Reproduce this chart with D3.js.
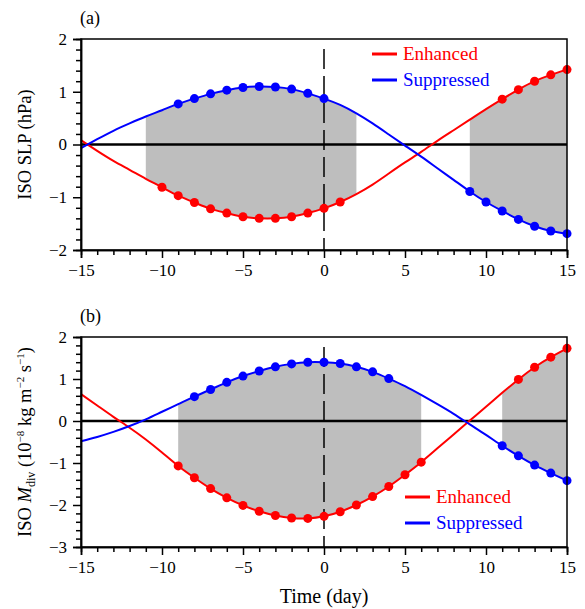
<!DOCTYPE html>
<html>
<head>
<meta charset="utf-8">
<script src="https://cdn.jsdelivr.net/npm/d3@7"></script>
<style>
  html, body { margin: 0; padding: 0; background: #fff; }
  svg { display: block; font-family: "Liberation Serif", "Times New Roman", serif; }
  svg text { font-family: "Liberation Serif", "Times New Roman", serif; }
</style>
</head>
<body>
<svg id="chart" width="585" height="609"></svg>
<script>
// ---- Data ----
const days = d3.range(-15, 16);
const xTicks = [-15, -10, -5, 0, 5, 10, 15];

// Panel (a): ISO SLP (hPa)
const slpEnhanced = [0.08, -0.12, -0.31, -0.48, -0.65, -0.81, -0.97, -1.10, -1.22, -1.30, -1.37, -1.40, -1.40, -1.37, -1.30, -1.21, -1.09, -0.94, -0.76, -0.55, -0.34, -0.14, 0.07, 0.27, 0.47, 0.67, 0.86, 1.04, 1.20, 1.32, 1.42];
const slpSuppressed = [-0.07, 0.10, 0.26, 0.40, 0.53, 0.65, 0.77, 0.87, 0.96, 1.03, 1.08, 1.10, 1.09, 1.05, 0.97, 0.87, 0.75, 0.59, 0.40, 0.19, -0.02, -0.23, -0.45, -0.67, -0.89, -1.09, -1.26, -1.42, -1.55, -1.64, -1.69];
const slpEnhMarkerDays = [-10, -9, -8, -7, -6, -5, -4, -3, -2, -1, 0, 1, 11, 12, 13, 14, 15];
const slpSupMarkerDays = [-9, -8, -7, -6, -5, -4, -3, -2, -1, 0, 9, 10, 11, 12, 13, 14, 15];
const slpShadeRanges = [[-11, 2], [9, 15]];
const slpYTicks = [-2, -1, 0, 1, 2];

// Panel (b): ISO M_div (10^-8 kg m^-2 s^-1)
const mdivEnhanced = [0.64, 0.37, 0.10, -0.16, -0.44, -0.75, -1.07, -1.35, -1.61, -1.83, -2.01, -2.15, -2.25, -2.31, -2.32, -2.27, -2.16, -2.00, -1.80, -1.56, -1.28, -0.98, -0.65, -0.32, 0.01, 0.34, 0.67, 0.99, 1.28, 1.52, 1.73];
const mdivSuppressed = [-0.48, -0.38, -0.26, -0.12, 0.04, 0.22, 0.40, 0.58, 0.75, 0.92, 1.07, 1.19, 1.29, 1.36, 1.40, 1.40, 1.37, 1.29, 1.17, 1.01, 0.83, 0.62, 0.40, 0.17, -0.08, -0.33, -0.59, -0.83, -1.05, -1.24, -1.42];
const mdivEnhMarkerDays = [-9, -8, -7, -6, -5, -4, -3, -2, -1, 0, 1, 2, 3, 4, 5, 6, 12, 13, 14, 15];
const mdivSupMarkerDays = [-8, -7, -6, -5, -4, -3, -2, -1, 0, 1, 2, 3, 4, 11, 12, 13, 14, 15];
const mdivShadeRanges = [[-9, 6], [11, 15]];
const mdivYTicks = [-3, -2, -1, 0, 1, 2];

const seriesNames = ["Enhanced", "Suppressed"];
const seriesColors = ["#ff0000", "#0000ff"];

// ---- Drawing ----
const FONT = '"Liberation Serif", "Times New Roman", serif';
const svg = d3.select("#chart");
const left = 81, right = 567;
const x = d3.scaleLinear().domain([-15, 15]).range([left, right]);
const curve = d3.curveNatural;

function drawPanel(cfg) {
  const y = d3.scaleLinear().domain(cfg.yDomain).range([cfg.bottom, cfg.top]);
  const g = svg.append("g");
  const enh = days.map((d, i) => ({d, v: cfg.enh[i]}));
  const sup = days.map((d, i) => ({d, v: cfg.sup[i]}));

  // shading
  cfg.shade.forEach(([a, b]) => {
    const pts = days.map((d, i) => ({d, e: cfg.enh[i], s: cfg.sup[i]}))
      .filter(p => p.d >= a && p.d <= b);
    g.append("path")
      .attr("d", d3.area().x(p => x(p.d)).y0(p => y(p.e)).y1(p => y(p.s)).curve(curve)(pts))
      .attr("fill", "#bebebe");
  });

  // zero line
  g.append("line").attr("x1", left).attr("x2", right)
    .attr("y1", y(0)).attr("y2", y(0))
    .attr("stroke", "#000").attr("stroke-width", 2.5);

  // dashed day-0 line
  g.append("line").attr("x1", x(0)).attr("x2", x(0))
    .attr("y1", cfg.top + 10).attr("y2", cfg.bottom)
    .attr("stroke", "#000").attr("stroke-width", 1.5)
    .attr("stroke-dasharray", "20,7");

  // lines
  const line = d3.line().x(p => x(p.d)).y(p => y(p.v)).curve(curve);
  [enh, sup].forEach((data, k) => {
    g.append("path").attr("d", line(data))
      .attr("fill", "none").attr("stroke", seriesColors[k]).attr("stroke-width", 2);
  });
  // markers
  [[enh, cfg.enhM], [sup, cfg.supM]].forEach(([data, md], k) => {
    g.selectAll(null).data(data.filter(p => md.includes(p.d))).enter()
      .append("circle").attr("cx", p => x(p.d)).attr("cy", p => y(p.v))
      .attr("r", 4.5).attr("fill", seriesColors[k]);
  });

  // frame
  g.append("rect").attr("x", left).attr("y", cfg.top)
    .attr("width", right - left).attr("height", cfg.bottom - cfg.top)
    .attr("fill", "none").attr("stroke", "#000").attr("stroke-width", 1.5);

  // axes
  const xMinor = d3.range(-15, 16).filter(v => !xTicks.includes(v));
  const xAxis = g.append("g").attr("transform", `translate(0,${cfg.bottom})`);
  xAxis.call(d3.axisBottom(x).tickValues(xTicks).tickSize(8).tickPadding(6)
      .tickFormat(d3.format("d")));
  xAxis.append("g").call(d3.axisBottom(x).tickValues(xMinor).tickSize(5).tickFormat(""));
  const [y0, y1] = cfg.yDomain;
  const yMinor = d3.range(Math.round(y0 * 5), Math.round(y1 * 5) + 1).map(v => v / 5)
    .filter(v => Math.abs(v - Math.round(v)) > 1e-6);
  const yAxis = g.append("g").attr("transform", `translate(${left},0)`);
  yAxis.call(d3.axisLeft(y).tickValues(cfg.yTicks).tickSize(8).tickPadding(6)
      .tickFormat(d3.format("d")));
  yAxis.append("g").call(d3.axisLeft(y).tickValues(yMinor).tickSize(5).tickFormat(""));
  [xAxis, yAxis].forEach(a => a.attr("font-family", FONT).attr("font-size", 17));
  g.selectAll("g[font-family]").attr("font-family", FONT).attr("font-size", 17);
  g.selectAll(".domain").attr("stroke-width", 1.5);
  g.selectAll(".tick line").attr("stroke-width", 1.5);
  g.selectAll(".tick text").style("font-size", "17px").style("font-family", FONT).attr("fill", "#000");

  // panel label
  g.append("text").attr("x", 80).attr("y", cfg.top - 15)
    .attr("font-size", 18).text(cfg.label);

  // legend
  seriesNames.forEach((name, k) => {
    const ly = cfg.legY + k * 26;
    g.append("line").attr("x1", cfg.legX).attr("x2", cfg.legX + 25)
      .attr("y1", ly).attr("y2", ly)
      .attr("stroke", seriesColors[k]).attr("stroke-width", 3);
    g.append("text").attr("x", cfg.legX + 31).attr("y", ly + 6)
      .attr("font-size", 19).attr("fill", seriesColors[k]).text(name);
  });

  return {g, y};
}

const pa = drawPanel({
  top: 39, bottom: 250, yDomain: [-2, 2], yTicks: slpYTicks,
  enh: slpEnhanced, sup: slpSuppressed,
  enhM: slpEnhMarkerDays, supM: slpSupMarkerDays, shade: slpShadeRanges,
  label: "(a)", legX: 372, legY: 54
});
pa.g.append("text")
  .attr("transform", `translate(31,${(39 + 250) / 2}) rotate(-90)`)
  .attr("text-anchor", "middle").attr("font-size", 18.5)
  .text("ISO SLP (hPa)");

const pb = drawPanel({
  top: 337, bottom: 547, yDomain: [-3, 2], yTicks: mdivYTicks,
  enh: mdivEnhanced, sup: mdivSuppressed,
  enhM: mdivEnhMarkerDays, supM: mdivSupMarkerDays, shade: mdivShadeRanges,
  label: "(b)", legX: 405, legY: 497
});
const yl = pb.g.append("text")
  .attr("transform", `translate(31,${(337 + 547) / 2}) rotate(-90)`)
  .attr("text-anchor", "middle").attr("font-size", 18.5);
yl.append("tspan").text("ISO ");
yl.append("tspan").attr("font-style", "italic").text("M");
yl.append("tspan").attr("font-size", 12).attr("dy", 4).text("div");
yl.append("tspan").attr("dy", -4).text(" (10");
yl.append("tspan").attr("font-size", 11).attr("dy", -7).text("−8");
yl.append("tspan").attr("dy", 7).text(" kg m");
yl.append("tspan").attr("font-size", 11).attr("dy", -7).text("−2");
yl.append("tspan").attr("dy", 7).text(" s");
yl.append("tspan").attr("font-size", 11).attr("dy", -7).text("−1");
yl.append("tspan").attr("dy", 7).text(")");

svg.append("text").attr("x", x(0)).attr("y", 603)
  .attr("text-anchor", "middle").attr("font-size", 20)
  .text("Time (day)");
</script>
</body>
</html>
